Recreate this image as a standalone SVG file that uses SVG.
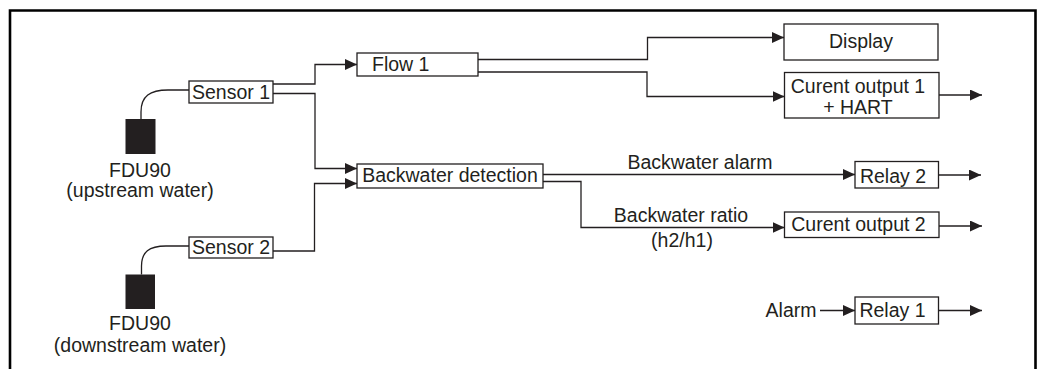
<svg xmlns="http://www.w3.org/2000/svg" width="1042" height="369" viewBox="0 0 1042 369">
<style>
text{font-family:"Liberation Sans",Arial,sans-serif;font-size:19.5px;fill:#231f20}
.c{text-anchor:middle}
.e{text-anchor:end}
.box{fill:#fff;stroke:#231f20;stroke-width:1.3}
.ln{fill:none;stroke:#231f20;stroke-width:1.3}
.arr{fill:none;stroke:#231f20;stroke-width:1.3;marker-end:url(#ah)}
.probe{fill:#231f20}
</style>
<defs>
<marker id="ah" markerUnits="userSpaceOnUse" markerWidth="12" markerHeight="11" refX="12" refY="5.5" orient="auto">
<path d="M0,0 L12,5.5 L0,11 z" fill="#231f20"/>
</marker>
</defs>
<rect width="1042" height="369" fill="#fff"/>
<path d="M10,369 V10.5 H1035.5 V369" fill="none" stroke="#000" stroke-width="2.6"/>

<g id="connectors">
<path class="ln" d="M189,90 L168,90 C150,90 141,96 141,112 L141,119"/>
<path class="ln" d="M189,246 L166,246 C149,246 141.5,252 141.5,266 L141.5,274.5"/>
<path class="arr" d="M273,84 H315 V64.5 H357"/>
<path class="arr" d="M273,93.5 H315 V168.5 H357"/>
<path class="arr" d="M273,251 H314.5 V183.5 H357"/>
<path class="arr" d="M478,59.5 H647.5 V37.5 H784"/>
<path class="arr" d="M478,72 H647 V96.5 H784.5"/>
<path class="arr" d="M939,95 H982"/>
<path class="arr" d="M543,174.5 H855"/>
<path class="arr" d="M938.5,175 H981"/>
<path class="arr" d="M543,181.5 H581 V227.5 H784.5"/>
<path class="arr" d="M939,226 H982"/>
<path class="arr" d="M820,310.5 H855"/>
<path class="arr" d="M938.5,310.5 H982"/>
</g>

<g id="fdu90-up">
<rect class="probe" x="125.5" y="119" width="30" height="35"/>
<text class="c" x="140" y="176.5">FDU90</text>
<text class="c" x="140" y="197">(upstream water)</text>
</g>
<g id="fdu90-down">
<rect class="probe" x="125.5" y="274.5" width="29.5" height="34.5"/>
<text class="c" x="140" y="330">FDU90</text>
<text class="c" x="140" y="351.5">(downstream water)</text>
</g>
<g id="sensor1">
<rect class="box" x="189" y="81" width="84" height="22"/>
<text class="c" x="231" y="99">Sensor 1</text>
</g>
<g id="sensor2">
<rect class="box" x="189" y="237" width="84" height="21"/>
<text class="c" x="231" y="254">Sensor 2</text>
</g>
<g id="flow1">
<rect class="box" x="357" y="53" width="121" height="23"/>
<text x="372" y="71">Flow 1</text>
</g>
<g id="backwater-detection">
<rect class="box" x="357" y="164" width="186" height="24"/>
<text class="c" x="450" y="182">Backwater detection</text>
</g>
<g id="display">
<rect class="box" x="784" y="24" width="154" height="36"/>
<text class="c" x="861" y="48">Display</text>
</g>
<g id="current-output-1">
<rect class="box" x="784.5" y="72.5" width="154.5" height="45.5"/>
<text class="c" x="858" y="92.5">Curent output 1</text>
<text class="c" x="858" y="113.5">+ HART</text>
</g>
<g id="relay2">
<rect class="box" x="855" y="161.5" width="83.5" height="26.5"/>
<text class="c" x="893" y="183">Relay 2</text>
</g>
<g id="current-output-2">
<rect class="box" x="784.5" y="212" width="154.5" height="25.5"/>
<text class="c" x="858.5" y="230.5">Curent output 2</text>
</g>
<g id="relay1">
<rect class="box" x="855" y="297" width="83.5" height="27"/>
<text class="c" x="892.5" y="317">Relay 1</text>
</g>
<g id="labels">
<text class="c" x="700" y="169">Backwater alarm</text>
<text class="c" x="681" y="221.5">Backwater ratio</text>
<text class="c" x="682" y="247">(h2/h1)</text>
<text class="e" x="816.5" y="317">Alarm</text>
</g>
</svg>
